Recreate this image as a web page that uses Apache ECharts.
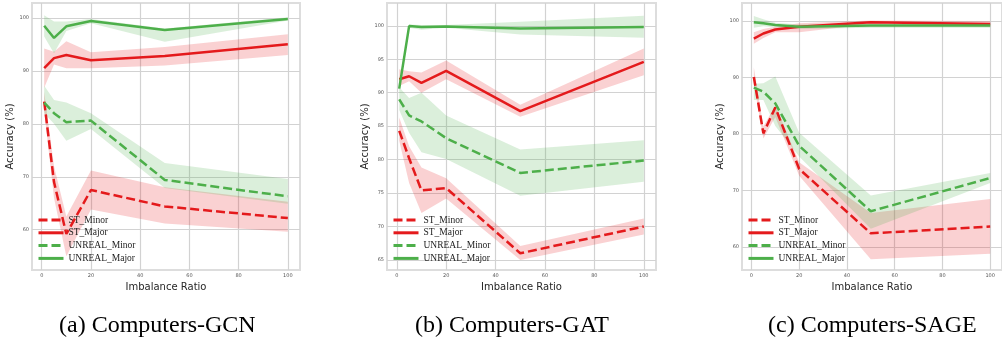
<!DOCTYPE html>
<html>
<head>
<meta charset="utf-8">
<script src="https://cdn.jsdelivr.net/npm/echarts@6/dist/echarts.min.js"></script>
<style>
  html, body { margin: 0; padding: 0; background: #fff; overflow: hidden; }
  #chart { width: 1002px; height: 344px; }
</style>
</head>
<body>
<div id="chart"></div>
<script>
// imbalance ratios on the x axis
const ratios = [1, 5, 10, 20, 50, 100];
const xTicks = [0, 20, 40, 60, 80, 100];

// (a) Computers-GCN
const gcnStMinor = [84.2, 69.0, 59.2, 67.5, 64.4, 62.2];
const gcnStMinorLo = [82.5, 66.0, 55.0, 63.8, 61.2, 59.6];
const gcnStMinorHi = [86.0, 72.0, 62.5, 71.2, 68.0, 65.3];
const gcnStMajor = [90.5, 92.4, 93.0, 92.0, 92.8, 95.0];
const gcnStMajorLo = [86.8, 91.2, 90.5, 90.5, 91.0, 93.0];
const gcnStMajorHi = [94.2, 93.6, 95.6, 93.5, 94.5, 96.9];
const gcnUnMinor = [84.0, 82.0, 80.3, 80.6, 69.4, 66.3];
const gcnUnMinorLo = [82.0, 80.0, 76.8, 79.0, 67.9, 64.9];
const gcnUnMinorHi = [87.2, 84.5, 84.0, 82.0, 72.6, 69.6];
const gcnUnMajor = [98.5, 96.2, 98.4, 99.4, 97.7, 99.8];
const gcnUnMajorLo = [96.5, 93.3, 97.5, 99.0, 95.5, 99.5];
const gcnUnMajorHi = [100.5, 99.3, 99.3, 99.8, 98.0, 100.1];
const gcnYTicks = [60, 70, 80, 90, 100];

// (b) Computers-GAT
const gatStMinor = [84.3, 80.2, 75.4, 75.75, 66.0, 70.0];
const gatStMinorLo = [82.8, 76.5, 72.0, 74.2, 65.0, 68.8];
const gatStMinorHi = [86.3, 82.0, 78.8, 77.2, 67.1, 71.2];
const gatStMajor = [92.0, 92.45, 91.45, 93.25, 87.25, 94.6];
const gatStMajorLo = [91.0, 91.7, 90.0, 92.0, 86.4, 92.6];
const gatStMajorHi = [93.5, 93.2, 93.0, 94.8, 88.2, 96.6];
const gatUnMinor = [89.0, 86.6, 85.7, 83.2, 78.0, 79.85];
const gatUnMinorLo = [87.4, 84.0, 81.1, 80.1, 74.6, 76.7];
const gatUnMinorHi = [90.8, 89.2, 90.0, 86.6, 81.5, 82.9];
const gatUnMajor = [90.6, 99.95, 99.8, 99.9, 99.6, 99.8];
const gatUnMajorLo = [90.2, 99.7, 99.4, 99.7, 98.7, 98.2];
const gatUnMajorHi = [91.0, 100.2, 100.1, 100.1, 100.6, 101.5];
const gatYTicks = [65, 70, 75, 80, 85, 90, 95, 100];

// (c) Computers-SAGE
const sageStMinor = [90.1, 80.1, 84.7, 73.8, 62.4, 63.6];
const sageStMinorLo = [88.9, 79.2, 83.0, 72.6, 57.8, 58.8];
const sageStMinorHi = [91.8, 81.3, 85.1, 75.0, 66.0, 68.5];
const sageStMajor = [96.9, 97.8, 98.5, 99.0, 99.8, 99.5];
const sageStMajorLo = [96.0, 97.0, 98.0, 98.0, 99.5, 99.0];
const sageStMajorHi = [98.0, 98.6, 99.0, 99.6, 100.1, 100.0];
const sageUnMinor = [88.2, 87.5, 85.4, 77.9, 66.3, 72.2];
const sageUnMinorLo = [86.0, 86.0, 81.4, 76.0, 63.2, 71.3];
const sageUnMinorHi = [88.9, 89.0, 90.2, 80.2, 69.1, 73.1];
const sageUnMajor = [99.8, 99.6, 99.3, 99.0, 99.2, 99.2];
const sageUnMajorLo = [98.8, 99.1, 98.9, 98.6, 98.8, 98.8];
const sageUnMajorHi = [100.9, 100.3, 99.7, 99.4, 99.6, 99.6];
const sageYTicks = [60, 70, 80, 90, 100];

const names = ["ST_Minor", "ST_Major", "UNREAL_Minor", "UNREAL_Major"];
const captions = ["(a) Computers-GCN", "(b) Computers-GAT", "(c) Computers-SAGE"];

const RED = "#e41a1c";
const GREEN = "#4daf4a";
const DASH = [9, 4];

// layout of the three axes boxes (pixels)
const panels = [
  { left: 32, width: 268, yMin: 52.4, yMax: 102.8, yTicks: gcnYTicks,
    lines: [[gcnStMinor, gcnStMinorLo, gcnStMinorHi], [gcnStMajor, gcnStMajorLo, gcnStMajorHi],
            [gcnUnMinor, gcnUnMinorLo, gcnUnMinorHi], [gcnUnMajor, gcnUnMajorLo, gcnUnMajorHi]] },
  { left: 387, width: 269, yMin: 63.5, yMax: 103.4, yTicks: gatYTicks,
    lines: [[gatStMinor, gatStMinorLo, gatStMinorHi], [gatStMajor, gatStMajorLo, gatStMajorHi],
            [gatUnMinor, gatUnMinorLo, gatUnMinorHi], [gatUnMajor, gatUnMajorLo, gatUnMajorHi]] },
  { left: 742, width: 268, yMin: 55.9, yMax: 103.2, yTicks: sageYTicks,
    lines: [[sageStMinor, sageStMinorLo, sageStMinorHi], [sageStMajor, sageStMajorLo, sageStMajorHi],
            [sageUnMinor, sageUnMinorLo, sageUnMinorHi], [sageUnMajor, sageUnMajorLo, sageUnMajorHi]] },
];
const captionLeft = [59, 415, 768];

const colors = [RED, RED, GREEN, GREEN];
const dashed = [true, false, true, false];

const grids = [], xAxes = [], yAxes = [], series = [], legends = [], graphics = [];

panels.forEach((p, gi) => {
  grids.push({
    left: p.left, width: p.width, top: 3, height: 267,
    show: true, backgroundColor: "#fff", borderColor: "#dddddd", borderWidth: 2,
  });
  xAxes.push({
    gridIndex: gi, type: "value", min: -3.95, max: 104.95,
    name: "Imbalance Ratio", nameLocation: "middle", nameGap: 8,
    nameTextStyle: { fontFamily: "DejaVu Sans", fontSize: 10, color: "#262626" },
    axisLine: { show: false },
    axisTick: { show: false, customValues: xTicks },
    axisLabel: { customValues: xTicks, fontSize: 5, color: "#555", margin: 3, fontFamily: "DejaVu Sans" },
    splitLine: { show: true, lineStyle: { color: "#d2d2d2", width: 1.2 } },
  });
  yAxes.push({
    gridIndex: gi, type: "value", min: p.yMin, max: p.yMax,
    name: "Accuracy (%)", nameLocation: "middle", nameGap: 13,
    nameTextStyle: { fontFamily: "DejaVu Sans", fontSize: 10, color: "#262626" },
    axisLine: { show: false },
    axisTick: { show: false, customValues: p.yTicks },
    axisLabel: { customValues: p.yTicks, fontSize: 5, color: "#555", margin: 3, fontFamily: "DejaVu Sans" },
    splitLine: { show: true, lineStyle: { color: "#d2d2d2", width: 1.2 } },
  });

  p.lines.forEach(([mean, lo, hi], k) => {
    // shaded band between lower and upper values
    series.push({
      type: "custom", name: names[k] + "_band", xAxisIndex: gi, yAxisIndex: gi,
      silent: true, z: 2, data: [[ratios[0], mean[0]]],
      renderItem: (params, api) => {
        const top = ratios.map((x, i) => api.coord([x, hi[i]]));
        const bot = ratios.map((x, i) => api.coord([x, lo[i]])).reverse();
        return { type: "polygon", shape: { points: top.concat(bot) },
                 style: { fill: colors[k], opacity: 0.2 } };
      },
    });
  });
  p.lines.forEach(([mean], k) => {
    series.push({
      type: "line", name: names[k], xAxisIndex: gi, yAxisIndex: gi, z: 4,
      symbol: "none", animation: false,
      lineStyle: { color: colors[k], width: 2.5, type: dashed[k] ? DASH : "solid" },
      itemStyle: { color: colors[k] },
      data: ratios.map((x, i) => [x, mean[i]]),
    });
  });

  legends.push({
    data: names, orient: "vertical", left: p.left + 5, top: 215, z: 3, padding: 0,
    itemWidth: 25, itemHeight: 10, itemGap: 2.8, selectedMode: false,
    itemStyle: { opacity: 0 },
    lineStyle: { width: 3 },
    textStyle: { fontFamily: "Liberation Serif", fontSize: 9.5, color: "#222", lineHeight: 10 },
  });

  graphics.push({
    type: "text", left: captionLeft[gi], top: 314,
    style: { text: captions[gi], font: "24px 'Liberation Serif'", fill: "#000" },
  });
});

const chart = echarts.init(document.getElementById("chart"));
chart.setOption({
  animation: false,
  grid: grids, xAxis: xAxes, yAxis: yAxes, series: series,
  legend: legends, graphic: graphics,
});
</script>
</body>
</html>
